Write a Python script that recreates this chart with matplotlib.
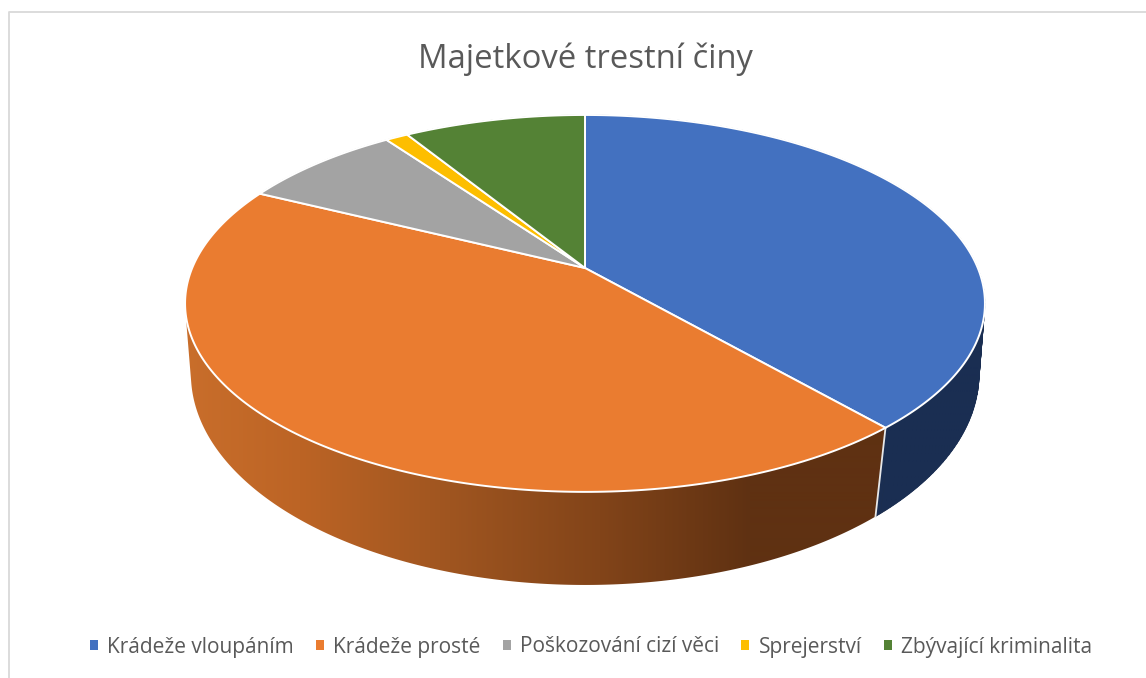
import numpy as np
import matplotlib
matplotlib.use("Agg")
import matplotlib.pyplot as plt
from matplotlib.patches import Polygon, Patch
from matplotlib.colors import to_rgb

title = "Majetkové trestní činy"
categories = ["Krádeže vloupáním", "Krádeže prosté", "Poškozování cizí věci",
              "Sprejerství", "Zbývající kriminalita"]
values = [38.6, 43.7, 7.8, 1.1, 8.8]
colors = ["#4371C0", "#EA7C30", "#A3A3A3", "#FDBE00", "#548235"]
wall_dark = ["#1A2E52", None, "#636363", "#997300", "#324F20"]

FONT = "Open Sans"
TEXT = "#595959"


def project(theta, x0, y0, a, b, k):
    u, v = np.sin(theta), np.cos(theta)
    w = 1 + k * v
    return x0 + a * u / w, y0 - b * v / w


TOP = (585.0, 268.0, 392.8, 181.8, 0.188)
LOW = (585.0, 340.2, 389.0, 205.6, 0.16)

# colour stops of the orange wall, against pixel x
grad_x = [185, 300, 450, 600, 750, 885, 886]
grad_c = ["#C96E2B", "#BC6425", "#9F5520", "#824419", "#5F3112", "#5F3112", "#1A2E52"]
grad_rgb = np.array([to_rgb(c) for c in grad_c])


def convex_hull(points):
    pts = sorted(set(map(tuple, np.round(points, 3))))

    def half(seq):
        out = []
        for p in seq:
            while len(out) > 1 and ((out[-1][0] - out[-2][0]) * (p[1] - out[-2][1])
                                    - (out[-1][1] - out[-2][1]) * (p[0] - out[-2][0])) <= 0:
                out.pop()
            out.append(p)
        return out[:-1]

    return half(pts) + half(pts[::-1])


fig = plt.figure(figsize=(11.46, 6.78), dpi=100, facecolor="white")
ax = fig.add_axes([0, 0, 1, 1])

# chart frame (only top and left visible in the crop)
ax.plot([1146, 8.5, 8.5], [11.5, 11.5, 678], color="#D9D9D9", lw=1.3, zorder=0)

edges = np.radians(np.concatenate([[0], np.cumsum(values)]) / sum(values) * 360)

# orange wall: gradient clipped to the silhouette of the whole drum
all_th = np.linspace(0, 2 * np.pi, 721)
hull = convex_hull(np.vstack([np.column_stack(project(all_th, *TOP)),
                              np.column_stack(project(all_th, *LOW))]))
xs = np.arange(170, 1001)
strip = np.stack([np.interp(xs, grad_x, grad_rgb[:, j]) for j in range(3)], axis=-1)[None, :, :]
im = ax.imshow(strip, extent=(170, 1001, 600, 100), aspect="auto", zorder=1,
               interpolation="bilinear")
im.set_clip_path(Polygon(hull, closed=True, transform=ax.transData))

# walls of the other slices
for i in range(len(values)):
    if wall_dark[i] is None:
        continue
    n = max(2, int((edges[i + 1] - edges[i]) / np.radians(1.0)))
    th = np.linspace(edges[i], edges[i + 1], n + 1)
    for a, b in zip(th[:-1], th[1:]):
        pts = [project(a, *TOP), project(b, *TOP), project(b, *LOW), project(a, *LOW)]
        ax.add_patch(Polygon(pts, closed=True, fc=wall_dark[i], ec=wall_dark[i],
                             lw=0.5, zorder=2))

# seams on the visible front of the wall
for e in edges:
    if np.cos(e) < 0:
        ax.plot(*zip(project(e, *TOP), project(e, *LOW)), color="#E8E8E8", lw=1.3, zorder=3)

# top face
for i in range(len(values)):
    th = np.linspace(edges[i], edges[i + 1], 200)
    x, y = project(th, *TOP)
    pts = np.column_stack([np.r_[TOP[0], x], np.r_[TOP[1], y]])
    ax.add_patch(Polygon(pts, closed=True, fc=colors[i], ec="white", lw=1.4,
                         joinstyle="round", zorder=4))

ax.text(585, 59.5, title, ha="center", va="center", fontsize=23.6,
        family=FONT, color=TEXT, zorder=6)

handles = [Patch(fc=c, ec="none", label=l) for c, l in zip(colors, categories)]
ax.legend(handles=handles, loc="center", bbox_to_anchor=(591 / 1146, 1 - 647 / 678),
          bbox_transform=fig.transFigure, ncol=5, frameon=False,
          prop={"family": FONT, "size": 15}, labelcolor=TEXT,
          handlelength=0.39, handleheight=0.39, handletextpad=0.45, columnspacing=1.05,
          borderpad=0, borderaxespad=0)

ax.set_xlim(0, 1146)
ax.set_ylim(678, 0)
ax.axis("off")

fig.savefig("out.png", dpi=100, facecolor="white")
